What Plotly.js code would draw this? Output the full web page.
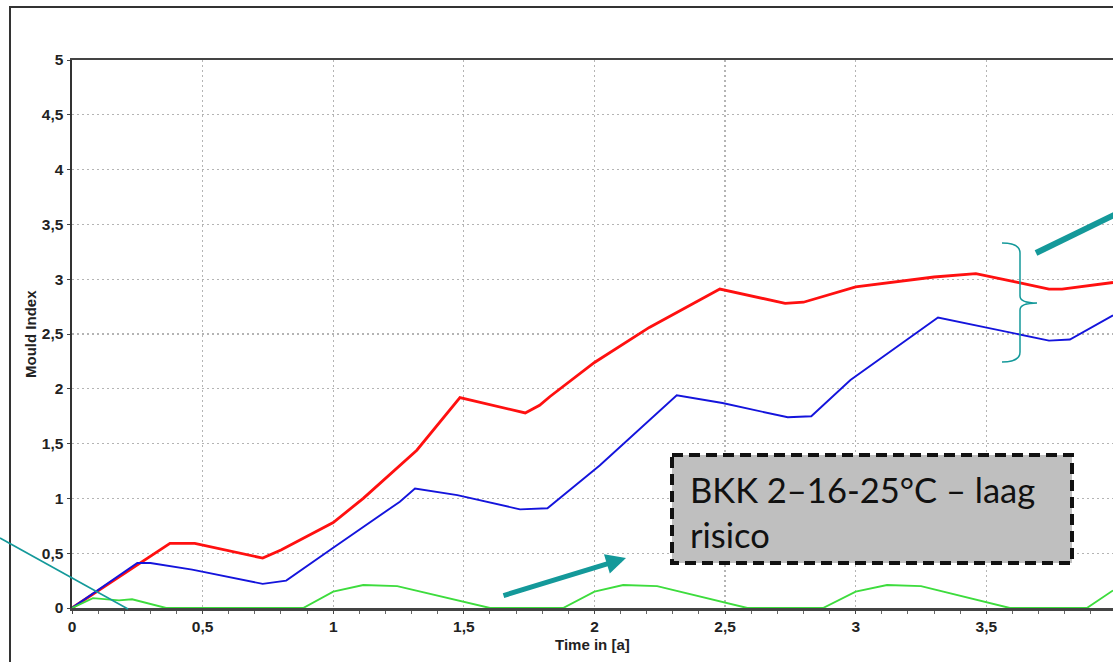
<!DOCTYPE html>
<html>
<head>
<meta charset="utf-8">
<script src="https://cdn.plot.ly/plotly-3.0.1.min.js"></script>
<style>
  html, body { margin: 0; padding: 0; background: #ffffff; }
  #chart { width: 1113px; height: 662px; }
</style>
</head>
<body>
<div id="chart"></div>
<script>
// ---- data ----
const redTime  = [0, 0.26, 0.375, 0.47, 0.73, 0.8, 1.0, 1.115, 1.32, 1.485, 1.735, 1.79, 1.83, 2.0, 2.21, 2.48, 2.73, 2.8, 3.0, 3.3, 3.46, 3.62, 3.74, 3.79, 3.985];
const redMould = [0, 0.41, 0.59, 0.59, 0.455, 0.53, 0.78, 1.0, 1.44, 1.92, 1.78, 1.85, 1.93, 2.24, 2.56, 2.91, 2.78, 2.79, 2.93, 3.02, 3.05, 2.97, 2.91, 2.91, 2.97];

const blueTime  = [0, 0.25, 0.3, 0.46, 0.73, 0.82, 1.0, 1.255, 1.313, 1.475, 1.715, 1.82, 2.02, 2.315, 2.49, 2.74, 2.83, 2.98, 3.315, 3.5, 3.74, 3.82, 3.985];
const blueMould = [0, 0.41, 0.41, 0.35, 0.22, 0.25, 0.55, 0.97, 1.09, 1.03, 0.9, 0.91, 1.3, 1.94, 1.87, 1.74, 1.75, 2.08, 2.65, 2.56, 2.44, 2.45, 2.67];

const greenTime  = [0, 0.08, 0.18, 0.23, 0.36, 0.885, 1.0, 1.115, 1.245, 1.6, 1.88, 2.0, 2.11, 2.24, 2.585, 2.875, 3.0, 3.12, 3.25, 3.59, 3.885, 3.985];
const greenMould = [0, 0.09, 0.07, 0.08, 0, 0, 0.15, 0.21, 0.2, 0, 0, 0.15, 0.21, 0.2, 0, 0, 0.15, 0.21, 0.2, 0, 0, 0.16];

const yTicks = [0, 0.5, 1, 1.5, 2, 2.5, 3, 3.5, 4, 4.5, 5];
const xTicks = [0, 0.5, 1, 1.5, 2, 2.5, 3, 3.5];

const xTitle = 'Time in [a]';
const yTitle = 'Mould Index';
const boxText = 'BKK 2–16-25°C – laag<br>risico';

// ---- layout helpers (pixel -> paper) ----
const L = 72, T = 60, W = 1041, H = 548;
const px = x => (x - L) / W;
const py = y => (T + H - y) / H;
const P = (x, y) => px(x) + ',' + py(y);

const teal = '#14999a';
const tickFont = {family: 'Liberation Sans, Arial, sans-serif', size: 15.5, color: '#222', weight: 'bold'};
const titleFont = {family: 'Liberation Sans, Arial, sans-serif', size: 15, color: '#222', weight: 'bold'};

const traces = [
  {x: redTime, y: redMould, type: 'scatter', mode: 'lines', line: {color: '#ff1010', width: 2.8}, hoverinfo: 'x+y'},
  {x: blueTime, y: blueMould, type: 'scatter', mode: 'lines', line: {color: '#1414dc', width: 1.9}, hoverinfo: 'x+y'},
  {x: greenTime, y: greenMould, type: 'scatter', mode: 'lines', line: {color: '#3ddc3d', width: 1.9}, hoverinfo: 'x+y'}
];

const bracePath = 'M' + P(1002, 243) + ' Q' + P(1020, 243) + ' ' + P(1020, 253) +
  ' L' + P(1020, 296) + ' Q' + P(1020, 303) + ' ' + P(1037, 303) +
  ' Q' + P(1020, 303) + ' ' + P(1020, 310) + ' L' + P(1020, 352) +
  ' Q' + P(1020, 362) + ' ' + P(1002, 362);

const layout = {
  width: 1113, height: 662,
  margin: {l: L, r: 0, t: T, b: 662 - T - H, pad: 0},
  paper_bgcolor: '#ffffff', plot_bgcolor: '#ffffff',
  separators: ', ',
  showlegend: false,
  font: {family: 'Liberation Sans, Arial, sans-serif', size: 15.5, color: '#222'},
  xaxis: {
    range: [0, 3.985], tickvals: xTicks, ticks: 'outside', ticklen: 3, tickcolor: '#444',
    showgrid: true, gridcolor: '#b4b4b4', griddash: '2px,3px', gridwidth: 1.2,
    minor: {dtick: 0.1, tick0: 0, ticks: 'outside', ticklen: 3, tickcolor: '#666', showgrid: false},
    showline: true, linecolor: '#444', linewidth: 2.5, mirror: true,
    zeroline: false, tickfont: tickFont, fixedrange: true
  },
  yaxis: {
    range: [0, 5], tickvals: yTicks, ticks: 'outside', ticklen: 3, tickcolor: '#444',
    showgrid: true, gridcolor: '#b4b4b4', griddash: '2px,3px', gridwidth: 1.2,
    showline: true, linecolor: '#333', linewidth: 2.5,
    zeroline: false, tickfont: tickFont, fixedrange: true
  },
  shapes: [
    // outer frame
    {type: 'line', xref: 'paper', yref: 'paper', x0: px(9), x1: px(1115), y0: py(7), y1: py(7), line: {color: '#333', width: 2}},
    {type: 'line', xref: 'paper', yref: 'paper', x0: px(10), x1: px(10), y0: py(6), y1: py(665), line: {color: '#333', width: 2}},
    // annotation box
    {type: 'rect', xref: 'paper', yref: 'paper', x0: px(672), x1: px(1072), y0: py(455), y1: py(563),
     fillcolor: '#bfbfbf', line: {color: '#111', width: 4, dash: '11px,6px'}, layer: 'above'},
    // thin teal line from left edge
    {type: 'line', xref: 'paper', yref: 'paper', x0: px(0), y0: py(538), x1: px(128), y1: py(609), line: {color: teal, width: 1.6}},
    // thick teal line top-right
    {type: 'line', xref: 'paper', yref: 'paper', x0: px(1036), y0: py(253), x1: px(1116), y1: py(214), line: {color: teal, width: 6}},
    // curly brace
    {type: 'path', xref: 'paper', yref: 'paper', path: bracePath, line: {color: teal, width: 1.5}}
  ],
  annotations: [
    {xref: 'paper', yref: 'paper', x: px(30), y: py(334), text: yTitle, showarrow: false, textangle: -90,
     font: titleFont, xanchor: 'center', yanchor: 'middle'},
    {xref: 'paper', yref: 'paper', x: px(592), y: py(645), text: xTitle, showarrow: false,
     font: titleFont, xanchor: 'center', yanchor: 'middle'},
    {xref: 'paper', yref: 'paper', x: px(688), y: py(512), text: boxText, showarrow: false, align: 'left',
     xanchor: 'left', yanchor: 'middle', font: {family: 'Lato, Open Sans, sans-serif', size: 34.5, color: '#111'}},
    {xref: 'paper', yref: 'paper', x: px(626), y: py(558), ax: -124, ay: 38, text: '', showarrow: true,
     arrowhead: 2, arrowsize: 0.8, arrowwidth: 5, arrowcolor: teal, standoff: 0, startstandoff: 0}
  ]
};

Plotly.newPlot('chart', traces, layout, {displayModeBar: false, staticPlot: true});
</script>
</body>
</html>
